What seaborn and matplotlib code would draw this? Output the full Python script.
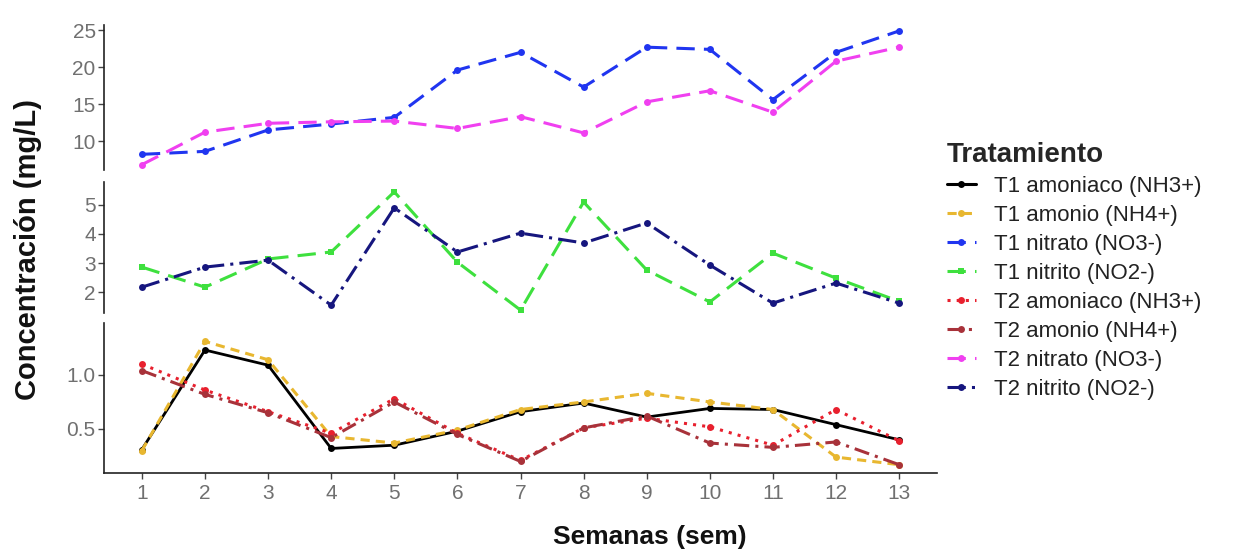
import numpy as np
import pandas as pd
import matplotlib
matplotlib.use("Agg")
import matplotlib.pyplot as plt
from matplotlib.lines import Line2D
import seaborn as sns

weeks = list(range(1, 14))

t1_amoniaco = [0.31, 1.23, 1.09, 0.32, 0.35, 0.48, 0.66, 0.74, 0.61, 0.69, 0.68, 0.54, 0.40]
t1_amonio   = [0.30, 1.31, 1.14, 0.43, 0.37, 0.49, 0.68, 0.75, 0.83, 0.75, 0.68, 0.24, 0.17]
t2_amoniaco = [1.10, 0.86, 0.66, 0.46, 0.78, 0.46, 0.21, 0.51, 0.60, 0.52, 0.35, 0.68, 0.39]
t2_amonio   = [1.04, 0.82, 0.65, 0.42, 0.75, 0.45, 0.20, 0.51, 0.62, 0.37, 0.33, 0.38, 0.17]

t1_nitrito  = [2.86, 2.17, 3.14, 3.38, 5.45, 3.03, 1.38, 5.10, 2.76, 1.66, 3.34, 2.48, 1.68]
t2_nitrito  = [2.17, 2.86, 3.10, 1.55, 4.90, 3.38, 4.03, 3.69, 4.38, 2.93, 1.62, 2.31, 1.62]

t1_nitrato  = [8.2, 8.6, 11.5, 12.3, 13.2, 19.6, 22.0, 17.3, 22.7, 22.4, 15.6, 22.0, 24.9]
t2_nitrato  = [6.8, 11.2, 12.4, 12.6, 12.7, 11.7, 13.3, 11.1, 15.3, 16.8, 13.9, 20.8, 22.7]

labels = ["T1 amoniaco (NH3+)", "T1 amonio (NH4+)", "T1 nitrato (NO3-)", "T1 nitrito (NO2-)",
          "T2 amoniaco (NH3+)", "T2 amonio (NH4+)", "T2 nitrato (NO3-)", "T2 nitrito (NO2-)"]
values = [t1_amoniaco, t1_amonio, t1_nitrato, t1_nitrito,
          t2_amoniaco, t2_amonio, t2_nitrato, t2_nitrito]
colors = ["#000000", "#E8B730", "#2035F0", "#3EE03E",
          "#E8202E", "#A8323A", "#F040F0", "#16167E"]
styles = ["-", (0, (3, 2)), (0, (6, 3)), (0, (6, 3)),
          (0, (1, 2)), (0, (5, 2, 1, 2)), (0, (6, 3)), (0, (6, 2, 1, 2))]
markers = ["o", "o", "o", "s", "o", "o", "o", "o"]
panel_of = [2, 2, 0, 1, 2, 2, 0, 1]

df = pd.DataFrame({
    "Semana": weeks * len(labels),
    "Valor": sum(values, []),
    "Tratamiento": sum([[l] * len(weeks) for l in labels], []),
})

sns.set_theme(style="white")
plt.rcParams["font.family"] = ["Liberation Sans", "DejaVu Sans"]

fig = plt.figure(figsize=(12.36, 5.52), dpi=100)
W, H = 1236, 552
left, right = 104 / W, 937 / W
panels_px = [(25, 170), (182, 313), (323, 473)]
axes = []
for top, bot in panels_px:
    ax = fig.add_axes([left, 1 - bot / H, right - left, (bot - top) / H])
    axes.append(ax)

ylims = [(6.08, 25.7), (1.28, 5.79), (0.093, 1.48)]
yticks = [[10, 15, 20, 25], [2, 3, 4, 5], [0.5, 1.0]]
yticklabels = [["10", "15", "20", "25"], ["2", "3", "4", "5"], ["0.5", "1.0"]]

for i, lab in enumerate(labels):
    ax = axes[panel_of[i]]
    sub = df[df["Tratamiento"] == lab]
    sns.lineplot(data=sub, x="Semana", y="Valor", ax=ax, color=colors[i],
                 linestyle=styles[i], linewidth=2.0 if i == 0 else 2.2,
                 marker=markers[i], markersize=5, markeredgewidth=0,
                 legend=False)

for k, ax in enumerate(axes):
    ax.set_xlim(0.4, 13.6)
    ax.set_ylim(*ylims[k])
    ax.set_yticks(yticks[k])
    ax.set_yticklabels(yticklabels[k])
    ax.set_xlabel("")
    ax.set_ylabel("")
    for s in ["top", "right"]:
        ax.spines[s].set_visible(False)
    ax.spines["left"].set_color("#222222")
    ax.spines["left"].set_linewidth(1.2)
    ax.tick_params(axis="y", which="both", left=True, length=4, width=1,
                   color="#444444", labelsize=15, labelcolor="#707070", pad=2)
    ax.patch.set_alpha(0)
    if k < 2:
        ax.spines["bottom"].set_visible(False)
        ax.set_xticks([])
    else:
        ax.spines["bottom"].set_color("#222222")
        ax.spines["bottom"].set_linewidth(1.2)
        ax.set_xticks(weeks)
        ax.set_xticklabels([str(w) for w in weeks])
        ax.tick_params(axis="x", which="both", bottom=True, length=4, width=1,
                       color="#444444", labelsize=15, labelcolor="#707070", pad=4)

fig.text(650 / W, 1 - 537 / H, "Semanas (sem)", ha="center", va="center",
         fontsize=19, fontweight="bold", color="#111111")
fig.text(28 / W, 1 - 250 / H, "Concentración (mg/L)", ha="center", va="center",
         rotation=90, fontsize=21, fontweight="bold", color="#111111")

handles = [Line2D([0], [0], color=colors[i], linestyle=styles[i], linewidth=2.2,
                  marker=markers[i], markersize=5, markeredgewidth=0)
           for i in range(len(labels))]
leg = fig.legend(handles, labels, title="Tratamiento", loc="upper left",
                 bbox_to_anchor=(938 / W, 1 - 133 / H), frameon=False,
                 fontsize=16, title_fontsize=20, handlelength=1.3,
                 handletextpad=0.8, labelspacing=0.36, alignment="left",
                 borderaxespad=0, borderpad=0.4)
leg.get_title().set_fontweight("bold")
for t in leg.get_texts():
    t.set_color("#222222")

fig.savefig("out.png", dpi=100)
